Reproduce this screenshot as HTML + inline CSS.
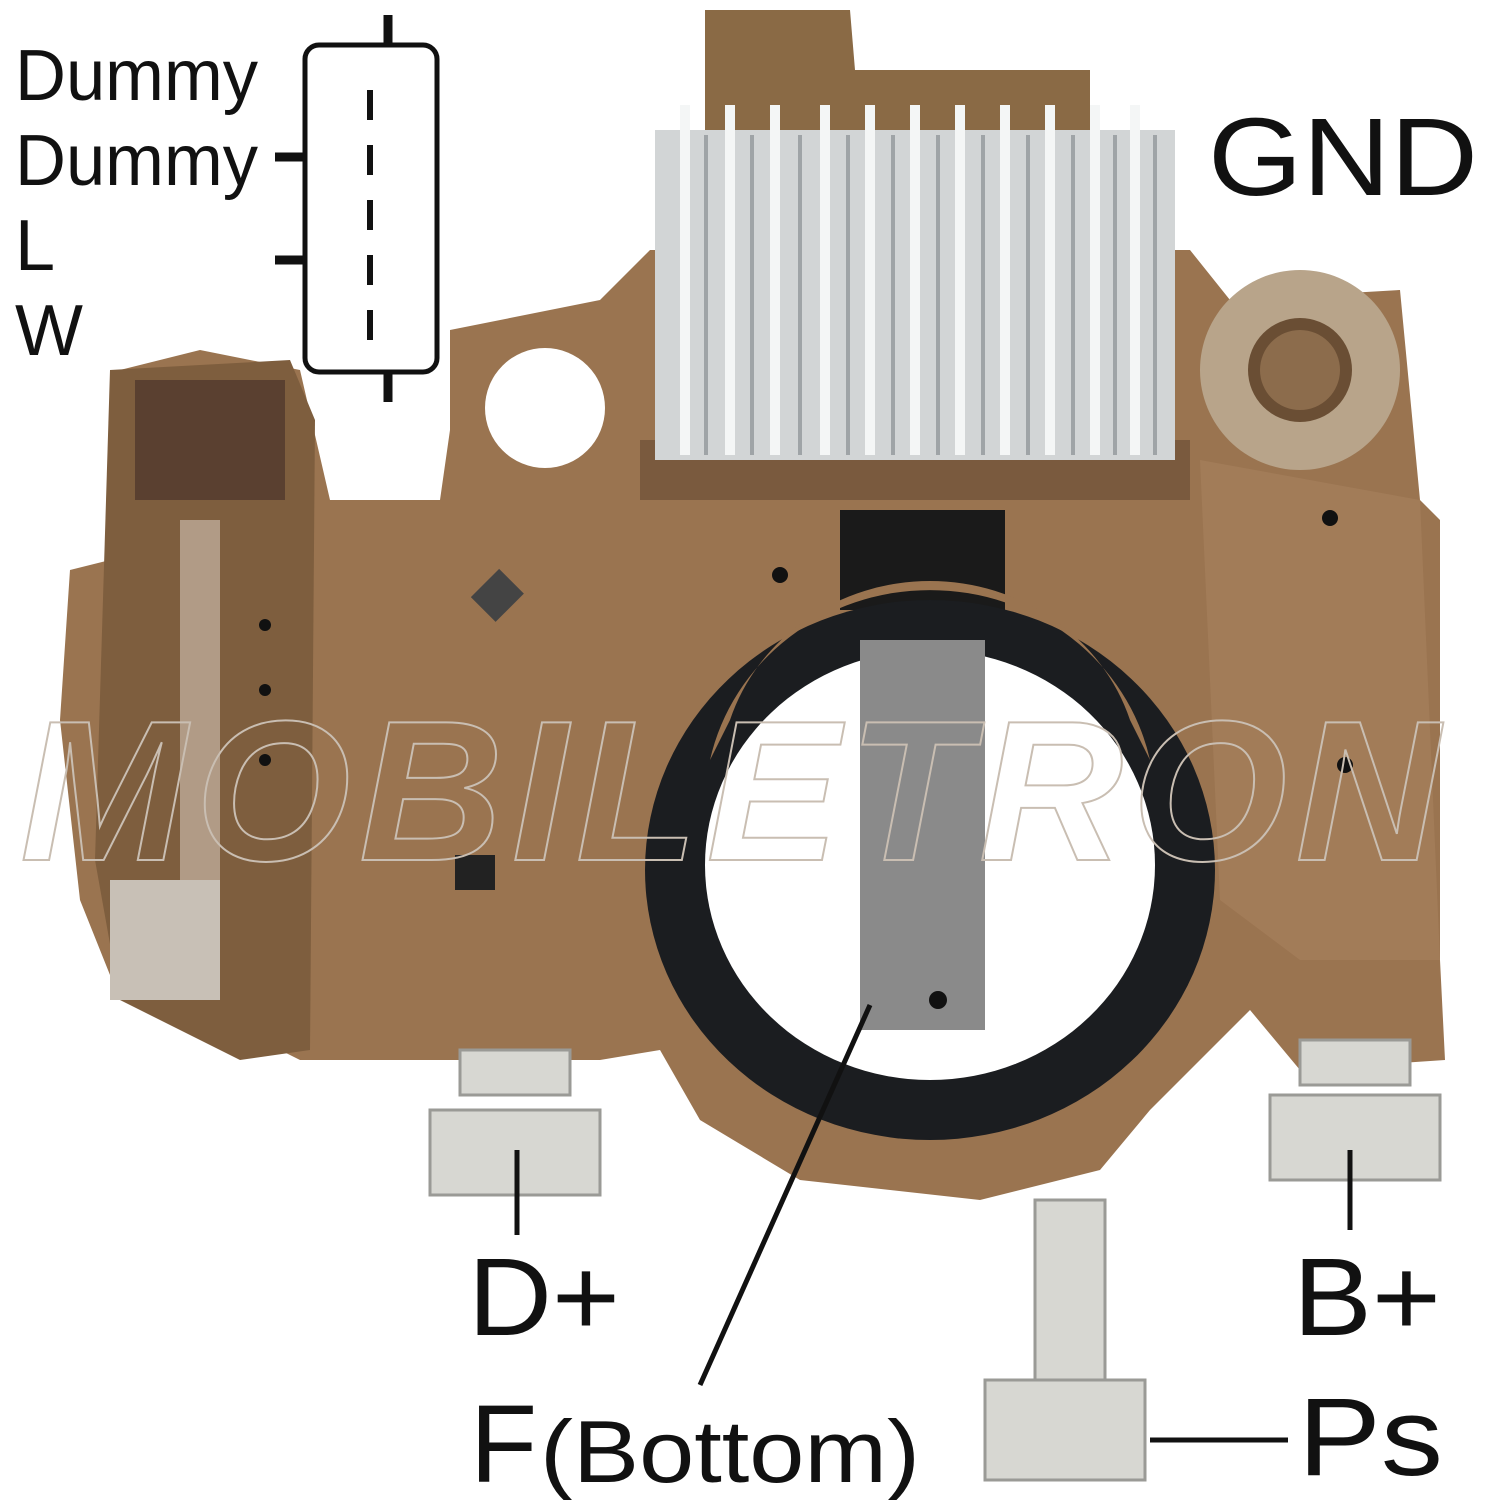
<!DOCTYPE html>
<html><head><style>
html,body{margin:0;padding:0;background:#fff;}
svg{display:block;}
text{font-family:"Liberation Sans",sans-serif;fill:#111;}
</style></head><body>
<svg width="1500" height="1500" viewBox="0 0 1500 1500" xmlns="http://www.w3.org/2000/svg">
<rect width="1500" height="1500" fill="#fff"/>
<path d="M705 10 L850 10 L855 70 L1090 70 L1090 130 L705 130 Z" fill="#8a6a45"/>
<path d="M450 330 L600 300 L650 250 L1190 250 L1230 300 L1400 290 L1420 500 L1440 520 L1440 960 L1445 1060 L1300 1070 L1250 1010 L1200 1060 L1150 1110 L1100 1170 L980 1200 L800 1180 L700 1120 L660 1050 L600 1060 L450 1060 L300 1060 L260 1040 L210 1010 L120 1000 L80 900 L60 720 L70 570 L110 560 L120 370 L200 350 L300 370 L330 500 L440 500 L450 430 Z" fill="#9a7450"/>
<path d="M1200 460 L1420 500 L1440 960 L1300 960 L1220 900 Z" fill="#a27c58"/>
<path d="M110 370 L290 360 L315 420 L310 1050 L240 1060 L120 1000 L95 860 Z" fill="#7e5e3e"/>
<rect x="135" y="380" width="150" height="120" fill="#5a4030"/>
<rect x="180" y="520" width="40" height="460" fill="#b19b86"/>
<rect x="110" y="880" width="110" height="120" fill="#c8c0b6"/>
<circle cx="545" cy="408" r="60" fill="#fff"/>
<circle cx="1300" cy="370" r="100" fill="#b8a48a"/>
<circle cx="1300" cy="370" r="52" fill="#6a4e34"/>
<circle cx="1300" cy="370" r="40" fill="#8c6c4c"/>
<rect x="640" y="440" width="550" height="60" fill="#7a5a3e"/>
<rect x="655" y="130" width="520" height="330" fill="#d2d5d6"/>
<g stroke="#f4f6f6" stroke-width="10">
<line x1="685" y1="105" x2="685" y2="455"/><line x1="730" y1="105" x2="730" y2="455"/><line x1="775" y1="105" x2="775" y2="455"/><line x1="825" y1="105" x2="825" y2="455"/><line x1="870" y1="105" x2="870" y2="455"/><line x1="915" y1="105" x2="915" y2="455"/><line x1="960" y1="105" x2="960" y2="455"/><line x1="1005" y1="105" x2="1005" y2="455"/><line x1="1050" y1="105" x2="1050" y2="455"/><line x1="1095" y1="105" x2="1095" y2="455"/><line x1="1135" y1="105" x2="1135" y2="455"/>
</g>
<g stroke="#9fa4a7" stroke-width="4">
<line x1="706" y1="135" x2="706" y2="455"/><line x1="752" y1="135" x2="752" y2="455"/><line x1="800" y1="135" x2="800" y2="455"/><line x1="848" y1="135" x2="848" y2="455"/><line x1="893" y1="135" x2="893" y2="455"/><line x1="938" y1="135" x2="938" y2="455"/><line x1="983" y1="135" x2="983" y2="455"/><line x1="1028" y1="135" x2="1028" y2="455"/><line x1="1073" y1="135" x2="1073" y2="455"/><line x1="1115" y1="135" x2="1115" y2="455"/><line x1="1155" y1="135" x2="1155" y2="455"/>
</g>
<rect x="840" y="510" width="165" height="100" fill="#1a1a1a"/>
<ellipse cx="930" cy="870" rx="285" ry="270" fill="#1b1d20"/>
<ellipse cx="930" cy="865" rx="225" ry="215" fill="#fff"/>
<path d="M710 760 A225 215 0 0 1 1150 760 L1130 720 A210 200 0 0 0 730 720 Z" fill="#9a7450"/>
<rect x="860" y="640" width="125" height="390" fill="#8a8a8a"/>
<circle cx="938" cy="1000" r="9" fill="#111"/>
<g fill="#111"><circle cx="780" cy="575" r="8"/><circle cx="1330" cy="518" r="8"/><circle cx="1345" cy="765" r="8"/><circle cx="265" cy="625" r="6"/><circle cx="265" cy="690" r="6"/><circle cx="265" cy="760" r="6"/></g>
<rect x="455" y="855" width="40" height="35" fill="#222"/>
<rect x="480" y="575" width="35" height="40" fill="#444" transform="rotate(45 497 595)"/>
<g fill="#d7d7d2" stroke="#9a9a96" stroke-width="3">
<rect x="460" y="1050" width="110" height="45"/>
<rect x="430" y="1110" width="170" height="85"/>
<rect x="1300" y="1040" width="110" height="45"/>
<rect x="1270" y="1095" width="170" height="85"/>
<rect x="1035" y="1200" width="70" height="180"/>
<rect x="985" y="1380" width="160" height="100"/>
</g>
<text x="20" y="860" font-size="200" font-weight="bold" font-style="italic" stroke="#c9beb2" stroke-width="2" textLength="1420" style="fill:none">MOBILETRON</text>
<rect x="305" y="45" width="132" height="327" rx="14" fill="#fff" stroke="#111" stroke-width="5"/>
<g stroke="#111" stroke-width="9">
<line x1="388" y1="15" x2="388" y2="45"/><line x1="388" y1="372" x2="388" y2="402"/>
<line x1="275" y1="157" x2="305" y2="157"/><line x1="275" y1="260" x2="305" y2="260"/>
</g>
<line x1="370" y1="90" x2="370" y2="345" stroke="#111" stroke-width="6" stroke-dasharray="30 25"/>
<text x="15" y="100" font-size="72" textLength="243" lengthAdjust="spacingAndGlyphs">Dummy</text>
<text x="15" y="185" font-size="72" textLength="243" lengthAdjust="spacingAndGlyphs">Dummy</text>
<text x="15" y="270" font-size="72">L</text>
<text x="15" y="355" font-size="72">W</text>
<text x="1208" y="195" font-size="110" textLength="270" lengthAdjust="spacingAndGlyphs">GND</text>
<g stroke="#111" stroke-width="5">
<line x1="517" y1="1150" x2="517" y2="1235"/>
<line x1="1350" y1="1150" x2="1350" y2="1230"/>
<line x1="700" y1="1385" x2="870" y2="1005"/>
<line x1="1150" y1="1440" x2="1288" y2="1440"/>
</g>
<text x="468" y="1335" font-size="110" textLength="152" lengthAdjust="spacingAndGlyphs">D+</text>
<text x="1293" y="1335" font-size="110" textLength="148" lengthAdjust="spacingAndGlyphs">B+</text>
<text x="470" y="1482" font-size="110">F</text>
<text x="540" y="1482" font-size="88" textLength="380" lengthAdjust="spacingAndGlyphs">(Bottom)</text>
<text x="1298" y="1475" font-size="110" textLength="145" lengthAdjust="spacingAndGlyphs">Ps</text>
</svg>
</body></html>
